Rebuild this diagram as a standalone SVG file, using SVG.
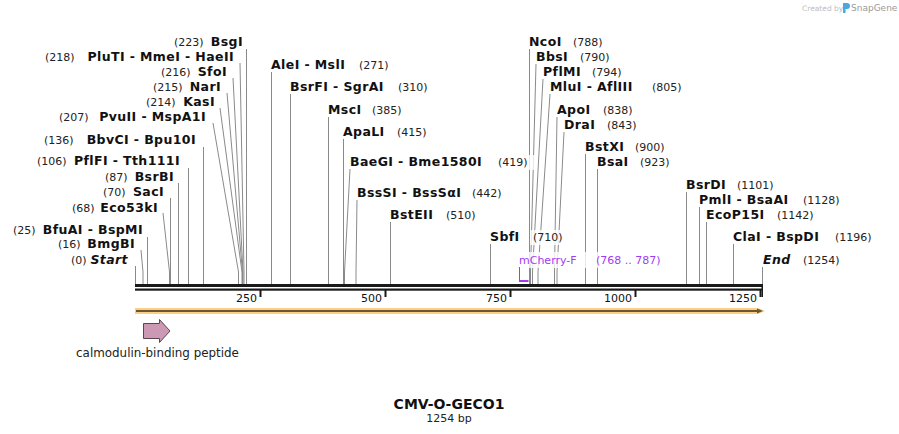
<svg xmlns="http://www.w3.org/2000/svg" width="899" height="434" viewBox="0 0 899 434">
<style>
.n{font-family:"DejaVu Sans",Verdana,sans-serif;font-size:11px;fill:#222}
.b{font-family:"DejaVu Sans",Verdana,sans-serif;font-size:12.5px;font-weight:bold;fill:#111;letter-spacing:0.4px}
.i{font-style:italic}
.e{text-anchor:end}
.c{stroke:#8a8a8a;stroke-width:1;fill:none}
.bg{fill:#fff;fill-opacity:0.8}
.p{font-family:"DejaVu Sans",Verdana,sans-serif;font-size:11px;fill:#a23cf0}
.t{font-family:"DejaVu Sans",Verdana,sans-serif;font-size:11px;fill:#111;text-anchor:end}
</style>
<rect width="899" height="434" fill="#fff"/>

<g id="watermark">
<text x="802" y="11" font-family="DejaVu Sans,sans-serif" font-size="7.5" fill="#bdbdbd">Created by</text>
<path d="M843,3 h4 a3,3 0 0 1 0,6 h-1.5 v4 h-2.5 z" fill="#4aa8e0"/>
<text x="851" y="11" font-family="DejaVu Sans,sans-serif" font-size="9" fill="#9a9a9a">SnapGene</text>
</g>

<g id="connectors">
<line class="c" x1="246.5" y1="49" x2="246.5" y2="284"/>
<polyline class="c" points="240,63 244,272 244,284"/>
<polyline class="c" points="233,78 243,272 243,284"/>
<polyline class="c" points="227,93 242.5,272 242.5,284"/>
<polyline class="c" points="220,108 242,272 242,284"/>
<polyline class="c" points="213,123 238.5,272 238.5,284"/>
<line class="c" x1="203.5" y1="147" x2="203.5" y2="284"/>
<line class="c" x1="188.5" y1="168" x2="188.5" y2="284"/>
<line class="c" x1="178.5" y1="183" x2="178.5" y2="284"/>
<line class="c" x1="170.5" y1="198" x2="170.5" y2="284"/>
<polyline class="c" points="163,213 169.5,272 169.5,284"/>
<line class="c" x1="147.5" y1="237" x2="147.5" y2="284"/>
<polyline class="c" points="141,250 143,272 143,284"/>
<line class="c" x1="135.5" y1="266" x2="135.5" y2="284"/>

<line class="c" x1="271.5" y1="72" x2="271.5" y2="284"/>
<line class="c" x1="290.5" y1="94" x2="290.5" y2="284"/>
<line class="c" x1="328.5" y1="117" x2="328.5" y2="284"/>
<line class="c" x1="343.5" y1="139" x2="343.5" y2="284"/>
<polyline class="c" points="350,169 344.5,272 344.5,284"/>
<polyline class="c" points="357,200 356,272 356,284"/>
<line class="c" x1="390.5" y1="222" x2="390.5" y2="284"/>
<line class="c" x1="490.5" y1="244" x2="490.5" y2="284"/>
<line class="c" x1="529.5" y1="49" x2="529.5" y2="284"/>
<polyline class="c" points="536,64 530.5,272 530.5,284"/>
<polyline class="c" points="543,79 532.5,272 532.5,284"/>
<polyline class="c" points="550,94 538,272 538,284"/>
<polyline class="c" points="557,117 554.5,272 554.5,284"/>
<polyline class="c" points="564,132 557,272 557,284"/>
<line class="c" x1="585.5" y1="154" x2="585.5" y2="284"/>
<line class="c" x1="597.5" y1="169" x2="597.5" y2="284"/>
<line class="c" x1="686.5" y1="192" x2="686.5" y2="284"/>
<line class="c" x1="699.5" y1="207" x2="699.5" y2="284"/>
<line class="c" x1="706.5" y1="222" x2="706.5" y2="284"/>
<line class="c" x1="733.5" y1="244" x2="733.5" y2="284"/>
<line class="c" x1="762.5" y1="267" x2="762.5" y2="284"/>
</g>

<g id="BsgI"><text class="n" x="174" y="46">(223)</text><text class="b e" x="243" y="46">BsgI</text></g>
<g id="PluTI"><text class="n" x="45" y="61">(218)</text><text class="b e" x="234" y="61">PluTI - MmeI - HaeII</text></g>
<g id="SfoI"><text class="n" x="161" y="76">(216)</text><text class="b e" x="227" y="76">SfoI</text></g>
<g id="NarI"><text class="n" x="153" y="91">(215)</text><text class="b e" x="221" y="91">NarI</text></g>
<g id="KasI"><text class="n" x="146" y="106">(214)</text><text class="b e" x="215" y="106">KasI</text></g>
<g id="PvuII"><text class="n" x="59" y="121">(207)</text><text class="b e" x="206" y="121">PvuII - MspA1I</text></g>
<g id="BbvCI"><text class="n" x="44" y="144">(136)</text><text class="b e" x="196" y="144">BbvCI - Bpu10I</text></g>
<g id="PflFI"><text class="n" x="37" y="165">(106)</text><text class="b e" x="180" y="165">PflFI - Tth111I</text></g>
<g id="BsrBI"><text class="n" x="105" y="181">(87)</text><text class="b e" x="174" y="181">BsrBI</text></g>
<g id="SacI"><text class="n" x="103" y="196">(70)</text><text class="b e" x="164" y="196">SacI</text></g>
<g id="Eco53kI"><text class="n" x="72" y="212">(68)</text><text class="b e" x="158" y="212">Eco53kI</text></g>
<g id="BfuAI"><text class="n" x="13" y="234">(25)</text><text class="b e" x="143" y="234">BfuAI - BspMI</text></g>
<g id="BmgBI"><text class="n" x="58" y="248">(16)</text><text class="b e" x="135" y="248">BmgBI</text></g>
<g id="Start"><text class="n" x="71" y="264">(0)</text><text class="b e i" x="128" y="264">Start</text></g>

<g id="AleI"><text class="b" x="271" y="69">AleI - MslI</text><text class="n" x="359" y="69">(271)</text></g>
<g id="BsrFI"><text class="b" x="290" y="91">BsrFI - SgrAI</text><text class="n" x="398" y="91">(310)</text></g>
<g id="MscI"><text class="b" x="328" y="114">MscI</text><text class="n" x="372" y="114">(385)</text></g>
<g id="ApaLI"><text class="b" x="343" y="136">ApaLI</text><text class="n" x="397" y="136">(415)</text></g>
<g id="BaeGI"><text class="b" x="350" y="166">BaeGI - Bme1580I</text><rect class="bg" x="495" y="155" width="40" height="15"/><text class="n" x="498" y="166">(419)</text></g>
<g id="BssSI"><text class="b" x="357" y="197">BssSI - BssSαI</text><text class="n" x="472" y="197">(442)</text></g>
<g id="BstEII"><text class="b" x="390" y="219">BstEII</text><text class="n" x="446" y="219">(510)</text></g>
<g id="SbfI"><text class="b" x="490" y="241">SbfI</text><rect class="bg" x="530" y="230" width="36" height="15"/><text class="n" x="533" y="241">(710)</text></g>
<g id="NcoI"><text class="b" x="529" y="46">NcoI</text><text class="n" x="573" y="46">(788)</text></g>
<g id="BbsI"><text class="b" x="536" y="61">BbsI</text><text class="n" x="580" y="61">(790)</text></g>
<g id="PflMI"><text class="b" x="543" y="76">PflMI</text><text class="n" x="592" y="76">(794)</text></g>
<g id="MluI"><text class="b" x="550" y="91">MluI - AflIII</text><text class="n" x="652" y="91">(805)</text></g>
<g id="ApoI"><text class="b" x="557" y="114">ApoI</text><text class="n" x="603" y="114">(838)</text></g>
<g id="DraI"><text class="b" x="564" y="129">DraI</text><text class="n" x="607" y="129">(843)</text></g>
<g id="BstXI"><text class="b" x="585" y="151">BstXI</text><text class="n" x="635" y="151">(900)</text></g>
<g id="BsaI"><text class="b" x="597" y="166">BsaI</text><text class="n" x="640" y="166">(923)</text></g>
<g id="BsrDI"><text class="b" x="686" y="189">BsrDI</text><text class="n" x="737" y="189">(1101)</text></g>
<g id="PmlI"><text class="b" x="699" y="204">PmlI - BsaAI</text><text class="n" x="803" y="204">(1128)</text></g>
<g id="EcoP15I"><text class="b" x="706" y="219">EcoP15I</text><text class="n" x="777" y="219">(1142)</text></g>
<g id="ClaI"><text class="b" x="733" y="241">ClaI - BspDI</text><text class="n" x="835" y="241">(1196)</text></g>
<g id="End"><text class="b i" x="763" y="264">End</text><text class="n" x="803" y="264">(1254)</text></g>

<g id="mCherry-F">
<rect class="bg" x="516" y="252" width="150" height="16"/>
<text class="p" x="519" y="264">mCherry-F</text>
<text class="p" x="596" y="264">(768 .. 787)</text>
<line x1="519.5" y1="267" x2="519.5" y2="281" stroke="#a23cf0" stroke-width="1"/>
<rect x="519" y="280" width="9.5" height="2" fill="#a23cf0"/>
</g>

<g id="ruler">
<rect x="135" y="284" width="628" height="3" fill="#1a1a1a"/>
<rect x="135" y="288.5" width="628" height="2.2" fill="#1a1a1a"/>
<rect x="259.5" y="290" width="2" height="7" fill="#1a1a1a"/>
<rect x="384.5" y="290" width="2" height="7" fill="#1a1a1a"/>
<rect x="509.5" y="290" width="2" height="7" fill="#1a1a1a"/>
<rect x="634.5" y="290" width="2" height="7" fill="#1a1a1a"/>
<rect x="759.5" y="290" width="2" height="7" fill="#1a1a1a"/>
<rect x="761.5" y="284" width="1.5" height="13" fill="#1a1a1a"/>
<text class="t" x="257" y="302">250</text>
<text class="t" x="382" y="302">500</text>
<text class="t" x="507" y="302">750</text>
<text class="t" x="632" y="302">1000</text>
<text class="t" x="757" y="302">1250</text>
</g>

<g id="orf">
<path d="M135,308 H758 L765,311 L758,314 H135 Z" fill="#fccf86"/>
<line x1="136" y1="311" x2="758" y2="311" stroke="#6b5535" stroke-width="2"/>
<path d="M757,308.5 L763,311 L757,313.5 Z" fill="#6b5535"/>
</g>

<g id="calmodulin-binding-peptide">
<path d="M143.5,323.5 H159.5 V319.5 L170,331 L159.5,342.5 V338.5 H143.5 Z" fill="#cc99b5" stroke="#5a4650" stroke-width="1"/>
<text x="157.5" y="357" font-family="DejaVu Sans,sans-serif" font-size="11.9" fill="#222" text-anchor="middle">calmodulin-binding peptide</text>
</g>

<g id="title">
<text x="449" y="409" font-family="DejaVu Sans,Verdana,sans-serif" font-size="14" font-weight="bold" fill="#111" text-anchor="middle">CMV-O-GECO1</text>
<text x="449" y="422" font-family="DejaVu Sans,sans-serif" font-size="11" fill="#222" text-anchor="middle">1254 bp</text>
</g>
</svg>
